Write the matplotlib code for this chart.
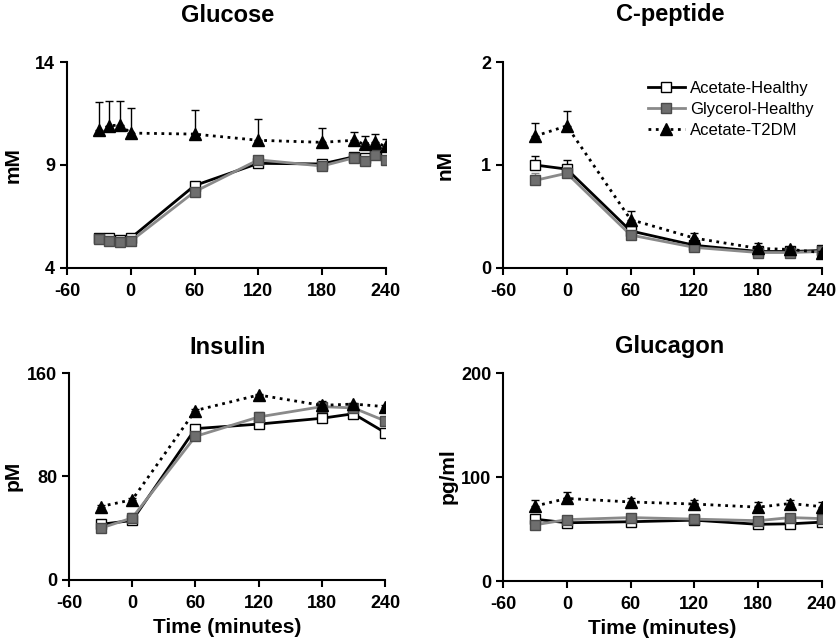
import matplotlib
matplotlib.use("Agg")
import matplotlib.pyplot as plt
import numpy as np

plt.rcParams['font.family'] = ['Liberation Sans', 'DejaVu Sans']
plt.rcParams['font.weight'] = 'bold'
plt.rcParams['axes.unicode_minus'] = False

# time points (minutes)
t_glu = [-30, -20, -10, 0, 60, 120, 180, 210, 220, 230, 240]
t_std = [-30, 0, 60, 120, 180, 210, 240]

# glucose (mM)
glu_ah = [5.45, 5.45, 5.35, 5.45, 8.0, 9.08, 9.05, 9.4, 9.35, 9.55, 9.45]
glu_ah_err = [0.1, 0.1, 0.1, 0.1, 0.15, 0.15, 0.15, 0.15, 0.15, 0.15, 0.15]
glu_gh = [5.4, 5.3, 5.25, 5.3, 7.7, 9.25, 8.95, 9.35, 9.2, 9.5, 9.25]
glu_gh_err = [0.1, 0.1, 0.1, 0.1, 0.15, 0.15, 0.15, 0.15, 0.15, 0.15, 0.15]
glu_t2 = [10.7, 10.9, 10.95, 10.55, 10.5, 10.2, 10.1, 10.2, 10.0, 10.1, 9.9]
glu_t2_err = [1.37, 1.2, 1.15, 1.22, 1.17, 1.03, 0.7, 0.4, 0.4, 0.4, 0.35]

# C-peptide (nM)
cp_ah = [1.0, 0.96, 0.36, 0.22, 0.16, 0.16, 0.17]
cp_ah_err = [0.09, 0.09, 0.03, 0.02, 0.02, 0.02, 0.02]
cp_gh = [0.85, 0.92, 0.32, 0.2, 0.15, 0.15, 0.16]
cp_gh_err = [0.07, 0.06, 0.03, 0.02, 0.02, 0.02, 0.02]
cp_t2 = [1.28, 1.38, 0.47, 0.29, 0.19, 0.18, 0.15]
cp_t2_err = [0.13, 0.14, 0.08, 0.05, 0.05, 0.02, 0.01]

# insulin (pM)
ins_ah = [43, 46, 117, 120.5, 125, 128.5, 114]
ins_ah_err = [1, 3, 1, 1, 1, 1, 1]
ins_gh = [40, 48, 111, 126, 134, 133, 123]
ins_gh_err = [1, 4, 1, 4, 3, 1, 3]
ins_t2 = [56.8, 62, 131, 143, 135, 136, 134]
ins_t2_err = [1, 1, 1, 1, 3, 1, 1]

# glucagon (pg/ml)
gcg_ah = [59.5, 56, 57, 58.5, 54.5, 55, 56.6]
gcg_ah_err = [1, 1, 1, 1, 1, 1, 1]
gcg_gh = [54, 59, 61, 59.5, 58, 61, 60]
gcg_gh_err = [1, 1, 1, 1, 1, 1, 1]
gcg_t2 = [72, 79.4, 76, 74, 71, 74.5, 71.5]
gcg_t2_err = [6, 6.6, 4, 4, 5, 3.2, 4.5]

labels = ['Acetate-Healthy', 'Glycerol-Healthy', 'Acetate-T2DM']

panels = [
    ('Glucose', 'mM', t_glu, (glu_ah, glu_ah_err), (glu_gh, glu_gh_err), (glu_t2, glu_t2_err), (4, 14), [4, 9, 14], False),
    ('C-peptide', 'nM', t_std, (cp_ah, cp_ah_err), (cp_gh, cp_gh_err), (cp_t2, cp_t2_err), (0, 2), [0, 1, 2], False),
    ('Insulin', 'pM', t_std, (ins_ah, ins_ah_err), (ins_gh, ins_gh_err), (ins_t2, ins_t2_err), (0, 160), [0, 80, 160], True),
    ('Glucagon', 'pg/ml', t_std, (gcg_ah, gcg_ah_err), (gcg_gh, gcg_gh_err), (gcg_t2, gcg_t2_err), (0, 200), [0, 100, 200], True),
]

W, H = 837, 642
rects = [
    [0.080, 0.5826, 0.381, 0.3208],
    [0.601, 0.5826, 0.381, 0.3208],
    [0.0824, 0.0966, 0.3776, 0.3224],
    [0.601, 0.095, 0.381, 0.324],
]
# title centres and y-label centres in pixels
title_xy = [(228, 15), (670, 15), (228, 347), (670, 347)]
ylab_xy = [(13, 165), (445, 165), (13, 476), (448, 476)]

fig = plt.figure(figsize=(8.37, 6.42), dpi=100)

for i, (title, unit, t, ah, gh, t2, ylim, yticks, xlab) in enumerate(panels):
    ax = fig.add_axes(rects[i])
    z = np.zeros(len(t))
    ax.errorbar(t, ah[0], yerr=[z, ah[1]], color='black', lw=2, marker='s', ms=7,
                mfc='white', mec='black', mew=1, ecolor='black', elinewidth=1, capsize=3,
                label=labels[0], zorder=3)
    ax.errorbar(t, gh[0], yerr=[z, gh[1]], color='#8a8a8a', lw=2, marker='s', ms=7,
                mfc='#6e6e6e', mec='#4a4a4a', mew=1, ecolor='#8a8a8a', elinewidth=1, capsize=3,
                label=labels[1], zorder=4)
    ax.errorbar(t, t2[0], yerr=[z, t2[1]], color='black', lw=2, ls=':', marker='^', ms=8,
                mfc='black', mec='black', ecolor='black', elinewidth=1, capsize=3,
                label=labels[2], zorder=5)
    ax.set_xlim(-60, 240)
    ax.set_ylim(*ylim)
    ax.set_xticks([-60, 0, 60, 120, 180, 240])
    ax.set_yticks(yticks)
    for s in ['top', 'right']:
        ax.spines[s].set_visible(False)
    for s in ['left', 'bottom']:
        ax.spines[s].set_linewidth(1.5)
    ax.tick_params(direction='out', length=5, width=1.5, labelsize=13)
    ax.tick_params(axis='x', pad=6)
    for lbl in ax.get_xticklabels() + ax.get_yticklabels():
        lbl.set_fontweight('bold')
    fig.text(title_xy[i][0] / W, 1 - title_xy[i][1] / H, title, fontsize=17,
             fontweight='bold', ha='center', va='center')
    fig.text(ylab_xy[i][0] / W, 1 - ylab_xy[i][1] / H, unit, fontsize=15,
             fontweight='bold', ha='center', va='center', rotation=90)
    if xlab:
        ax.set_xlabel('Time (minutes)', fontsize=15, fontweight='bold', labelpad=4)
    if title == 'C-peptide':
        hs, ls_ = ax.get_legend_handles_labels()
        hs = [h[0] for h in hs]
        ax.legend(hs, ls_, loc='upper right', bbox_to_anchor=(1.02, 0.98), frameon=False,
                  handlelength=2.2, handletextpad=0.3, labelspacing=0.35,
                  prop={'weight': 'normal', 'size': 12})

fig.savefig('out.png', dpi=100)
